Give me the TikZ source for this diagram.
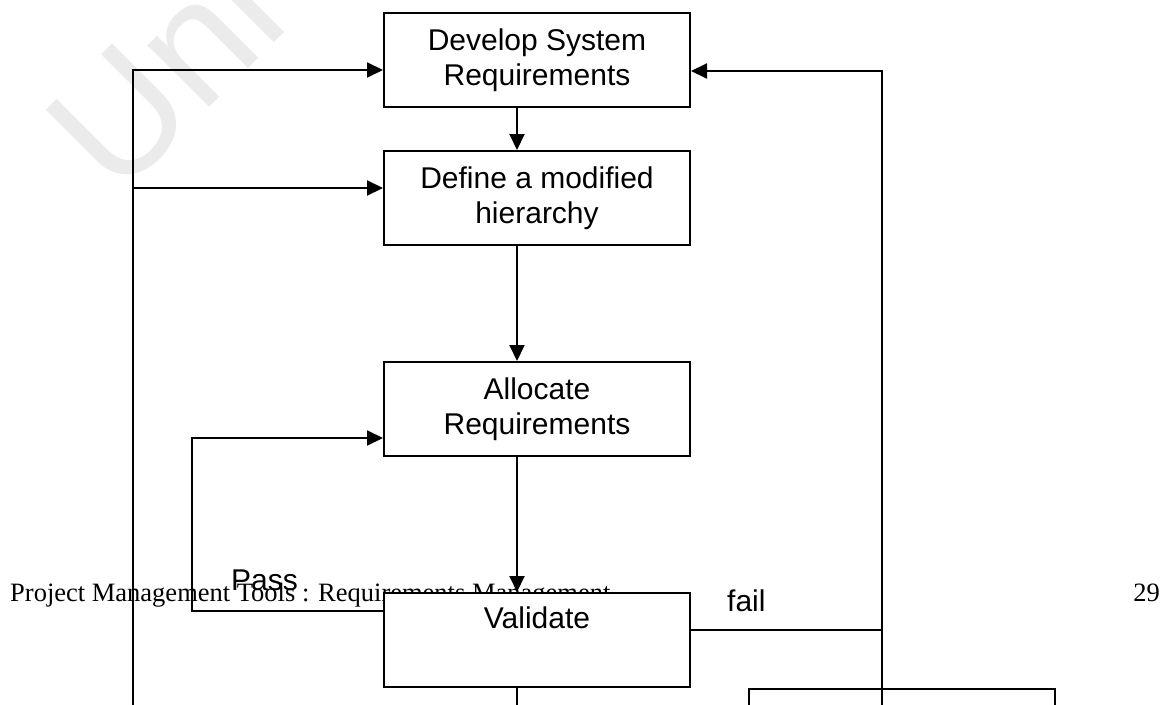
\documentclass[tikz,border=0pt]{standalone}
\usepackage{fontspec}
\setmainfont{Liberation Sans}
\newfontfamily\serifface{Liberation Serif}
\usetikzlibrary{arrows.meta}
\begin{document}
\begin{tikzpicture}[x=1pt,y=-1pt,
  stepbox/.style={draw, line width=2pt, fill=white, minimum width=306pt,
    minimum height=94pt, inner sep=0pt, align=center,
    font=\fontsize{30}{35}\selectfont},
  flow/.style={line width=2pt},
  arr/.style={flow, -{Triangle[length=16pt,width=15pt]}},
  lbl/.style={inner sep=0pt, font=\fontsize{30}{35}\selectfont},
  foot/.style={inner sep=0pt, font=\serifface\fontsize{26.5}{30}\selectfont},
  wmark/.style={inner sep=0pt, text=black!8,
    font=\fontsize{165}{165}\selectfont}]
\useasboundingbox (0,0) rectangle (1167,704);
\clip (0,0) rectangle (1167,704);
\fill[white] (0,0) rectangle (1167,704);

% faint watermark behind everything
\node[wmark, rotate=45, anchor=base west] (wm) at (117,200) {Uni};

% slide footer
\node[foot, anchor=base west] (footer) at (10,601)
  {Project Management Tools : Requirements Management};
\node[foot, anchor=base east] (page) at (1160,601) {29};

% process steps
\node[stepbox] (dev)   at (537,60)  {Develop System\\Requirements};
\node[stepbox] (def)   at (537,198) {Define a modified\\hierarchy};
\node[stepbox] (alloc) at (537,409) {Allocate\\Requirements};
\node[stepbox] (val)   at (537,640) {Validate\\\strut};
\node[stepbox] (next)  at (902,736) {};

% main downward flow
\coordinate (spine) at (517,0);
\draw[arr] (dev.south -| spine) -- (def.north -| spine);
\draw[arr] (def.south -| spine) -- (alloc.north -| spine);
\draw[arr] (alloc.south -| spine) -- (val.north -| spine);
\coordinate (valout) at (517,720);
\draw[flow] (val.south -| spine) -- (valout);

% left feedback line
\coordinate (lt) at (133,70);
\coordinate (lm) at (133,188);
\coordinate (lb) at (133,720);
\draw[arr] (lb) -- (lt) -- (lt -| dev.west);
\draw[arr] (lm) -- (lm -| def.west);

% right feedback line (fail path)
\coordinate (rt) at (882,71);
\coordinate (rf) at (882,630);
\coordinate (rb) at (882,720);
\draw[arr] (rb) -- (rt) -- (rt -| dev.east);
\draw[flow] (rf -| val.east) -- (rf);

% pass loop back to allocation
\coordinate (pb) at (192,611);
\coordinate (pt) at (192,438);
\draw[arr] (pb -| val.west) -- (pb) -- (pt) -- (pt -| alloc.west);

% branch labels
\node[lbl, anchor=base west] (pass) at (231,590) {Pass};
\node[lbl, anchor=base west] (fail) at (727,611) {fail};
\end{tikzpicture}
\end{document}
